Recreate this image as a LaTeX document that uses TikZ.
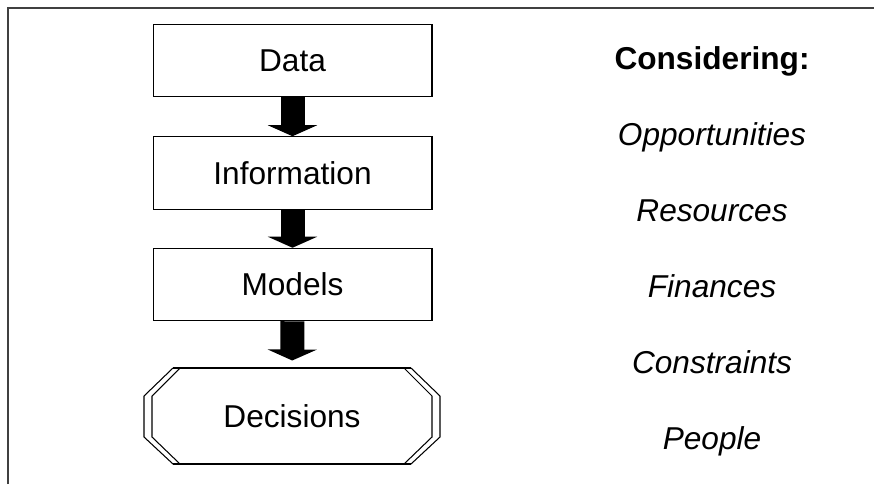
\documentclass[tikz,border=0pt]{standalone}
\usepackage{fontspec}
\setmainfont{Liberation Sans}
\usepackage{xcolor}
\usetikzlibrary{arrows.meta}

\begin{document}
\begin{tikzpicture}[x=0.02cm,y=-0.02cm,
		box/.style={draw,line width=0.6pt,minimum width=5.58cm,minimum height=1.45cm,inner sep=0pt,font=\fontsize{18}{21}\selectfont},
		side/.style={anchor=base,font=\fontsize{18}{21}\selectfont\itshape},
		fat/.style={line width=0.48cm,-{Triangle[width=0.98cm,length=0.22cm]}}]
		\useasboundingbox (0,0) rectangle (874,484);
		\draw[darkgray,line width=0.8pt] (8,484) -- (8,8) -- (874,8);
		
		\node[box] (data) at (292.5,60.5) {Data};
		\node[box] (info) at (292.5,173) {Information};
		\node[box] (models) at (292.5,284.5) {Models};
		\node[box,draw=none,minimum width=5.92cm,minimum height=1.92cm] (dec) at (292,416) {Decisions};
		
		% double edged octagon
		\draw[line width=0.6pt] (173,368) -- (411,368);
		\draw[line width=0.6pt] (173,464) -- (411,464);
		\draw[line width=0.6pt] (173,368) -- (144,396) -- (144,437) -- (173,464);
		\draw[line width=0.6pt] (180,368) -- (152,396) -- (152,437) -- (180,464);
		\draw[line width=0.6pt] (411,368) -- (440,396) -- (440,437) -- (411,464);
		\draw[line width=0.6pt] (404,368) -- (432,396) -- (432,437) -- (404,464);
		
		\draw[fat] (data) -- (info);
		\draw[fat] (info) -- (models);
		\draw[fat,shorten >=0.14cm] (models) -- (dec);
		
		\node[side,font=\fontsize{18}{21}\selectfont\bfseries] (cons) at (712,69) {Considering:};
		\node[side] (opp) at (712,145) {Opportunities};
		\node[side] (res) at (712,221) {Resources};
		\node[side] (fin) at (712,297) {Finances};
		\node[side] (constr) at (712,373) {Constraints};
		\node[side] (people) at (712,449) {People};
\end{tikzpicture}
\end{document}
